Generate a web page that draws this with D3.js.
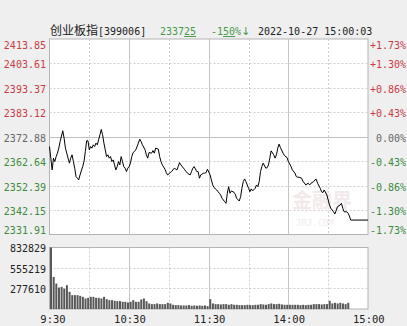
<!DOCTYPE html>
<html><head><meta charset="utf-8">
<script src="https://cdn.jsdelivr.net/npm/d3@7"></script>
<style>
html,body{margin:0;padding:0;background:#efefef;}
svg{display:block;}
text{font-family:"DejaVu Sans Mono",monospace;font-size:10px;}
</style></head>
<body>
<script>
// ---- data ----
const title = "创业板指";
const code = "[399006]";
const lastPriceMain = "2337", lastPriceDec = "25";
const changeMain = "-1", changeDec = "50", changePct = "%", changeArrow = "↓";
const stamp = "2022-10-27 15:00:03";
const prevClose = 2372.88;

const priceTicks = [2413.85, 2403.61, 2393.37, 2383.12, 2372.88, 2362.64, 2352.39, 2342.15, 2331.91];
const pctTicks = ["+1.73%", "+1.30%", "+0.86%", "+0.43%", "0.00%", "-0.43%", "-0.86%", "-1.30%", "-1.73%"];
const volTicks = [832829, 555219, 277610];
const timeTicks = [0, 60, 120, 180, 240];
const timeLabels = ["9:30", "10:30", "11:30", "14:00", "15:00"];

// minute offsets from 9:30 (trading minutes) and index values
const minutes = [
  0,2,3,4,5,6,7,8,10,11,12,13,14,15,16,17,18,19,20,21,22,23,25,26,27,28,29,30,31,32,
  33,34,35,36,37,38,39,40,41,42,43,44,45,46,47,48,49,50,51,52,53,54,55,56,57,58,59,60,
  61,62,63,64,65,67,68,69,70,72,73,74,75,77,78,79,80,82,83,84,85,87,88,89,91,92,
  93,94,96,97,98,99,101,102,103,104,106,107,108,109,111,112,113,114,116,117,118,119,
  121,122,123,124,126,127,128,129,130,131,132,133,134,135,136,137,139,140,141,143,
  144,145,146,147,148,150,151,152,153,155,156,157,158,159,160,161,163,164,165,166,
  167,169,170,171,172,173,174,176,177,179,180,
  181,182,183,185,186,187,188,190,191,192,193,195,196,197,199,200,201,202,204,205,
  206,207,209,210,211,212,214,215,216,217,219,220,221,222,224,225,226,227,240
];
const prices = [
  2368.78,2358.99,2363.90,2362.47,2364.58,2366.01,2368.11,2370.88,2375.38,2372.31,2368.11,2366.01,2363.90,2361.80,2363.90,2365.29,2362.47,2359.70,2356.17,2355.50,2354.78,2356.88,2360.37,2362.47,2366.68,2371.18,2371.18,2367.39,2368.78,2368.11,
  2369.50,2368.78,2370.21,2369.50,2371.60,2373.70,2375.93,2373.70,2370.21,2367.39,2364.58,2365.29,2363.90,2364.58,2362.47,2363.19,2361.09,2358.99,2360.37,2362.47,2361.09,2364.58,2362.47,2360.37,2359.70,2358.27,2359.70,2360.37,
  2361.80,2364.58,2366.26,2366.68,2367.39,2370.21,2371.89,2370.88,2369.50,2367.39,2365.29,2363.90,2366.26,2366.01,2367.10,2366.01,2368.11,2367.69,2364.58,2362.47,2361.09,2359.28,2357.85,2356.88,2357.85,2358.27,
  2358.99,2359.70,2358.99,2360.37,2362.05,2361.09,2359.70,2358.99,2358.27,2357.60,2356.88,2358.27,2359.70,2360.37,2358.27,2358.27,2355.50,2356.88,2357.60,2357.60,2357.85,2359.28,
  2356.88,2354.78,2352.68,2351.54,2350.58,2349.86,2349.19,2348.47,2347.09,2346.37,2345.66,2344.98,2349.19,2351.96,2349.19,2350.16,2349.61,2348.77,2347.09,2345.95,
  2347.76,2351.29,2354.07,2355.20,2354.07,2351.29,2349.86,2351.00,2350.16,2351.29,2352.68,2351.96,2354.07,2358.27,2360.37,2361.80,2359.70,2359.95,2361.09,2363.90,
  2366.97,2365.29,2363.90,2365.29,2368.11,2369.79,2368.36,2366.01,2365.00,2364.16,2362.47,
  2361.51,2360.37,2358.99,2357.60,2356.17,2355.92,2355.92,2355.50,2354.07,2353.65,2352.68,2353.39,2352.68,2353.39,2354.07,2354.78,2355.07,2353.39,2351.29,2349.86,
  2349.44,2350.58,2348.47,2346.37,2344.27,2342.88,2341.45,2340.49,2341.87,2343.56,2344.27,2344.98,2342.88,2341.45,2341.45,2340.78,2339.65,2337.96,2337.96
];

// volume, one bar per 2 trading minutes
const volumes = [
  832829,434000,344600,290700,299600,277200,322100,232200,187300,187300,
  187300,178300,164800,142400,151300,164800,164800,151300,151300,142400,
  164800,133400,119900,119900,110900,106500,106500,97400,97400,88500,
  97400,119900,97400,97400,129000,142400,106500,75100,66000,66000,
  75100,66000,66000,66000,84000,75100,57000,52600,52600,48100,
  48100,48100,52600,43500,48100,43500,48100,43500,48100,39100,
  133400,75100,66000,66000,61600,66000,66000,57000,66000,57000,
  57000,52600,52600,52600,57000,52600,52600,57000,57000,66000,
  61600,57000,66000,75100,66000,66000,70500,61600,57000,57000,
  57000,57000,57000,57000,52600,57000,52600,57000,57000,66000,
  66000,66000,61600,66000,66000,110900,75100,84000,75100,84000,
  75100,66000,84000
];

// ---- drawing ----
const W = 407, H = 326;
const L = 49.5, R = 368;
const mainTop = 39, mainBot = 234.5;
const volTop = 247.5, volBot = 309;
const RED = "#c83c46", GREEN = "#3c8c3c", NEUTRAL = "#666", DARK = "#222";

const svg = d3.select("body").append("svg").attr("width", W).attr("height", H);
svg.append("rect").attr("width", W).attr("height", H).attr("fill", "#efefef");

const x = d3.scaleLinear().domain([0, 240]).range([L, R]);
const y = d3.scaleLinear().domain([priceTicks[8], priceTicks[0]]).range([mainBot, mainTop]);
const yv = d3.scaleLinear().domain([0, volTicks[0]]).range([volBot, volTop]);

const px = v => Math.round(v) + 0.5;

function panel(top, bot) {
  svg.append("rect").attr("x", L).attr("y", top).attr("width", R - L).attr("height", bot - top)
    .attr("fill", "#fff").attr("stroke", "#b4b4b4").attr("stroke-width", 1);
  [30, 60, 90, 120, 150, 180, 210].forEach(m => {
    const solid = m % 60 === 0;
    svg.append("line").attr("x1", px(x(m))).attr("x2", px(x(m))).attr("y1", top).attr("y2", bot)
      .attr("stroke", solid ? "#c4c4c4" : "#cfcfcf").attr("stroke-dasharray", solid ? null : "2,2");
  });
}

// main panel
panel(mainTop, mainBot);
priceTicks.slice(1, -1).forEach(p => {
  const solid = p === prevClose;
  svg.append("line").attr("x1", L).attr("x2", R).attr("y1", px(y(p))).attr("y2", px(y(p)))
    .attr("stroke", solid ? "#c0c0c0" : "#cfcfcf").attr("stroke-dasharray", solid ? null : "2,2");
});

// watermark
svg.append("text").attr("x", 292).attr("y", 208).text("金融界")
  .style("font-family", "'Noto Sans CJK SC'").style("font-size", "20px").style("font-weight", "bold")
  .attr("fill", "#f2eaea");
svg.append("text").attr("x", 296).attr("y", 226).text("JRJ.COM")
  .style("font-size", "9px").attr("fill", "#f3eded");

// price line
const pts = minutes.map((m, i) => [m, prices[i]]);
svg.append("path").datum(pts)
  .attr("d", d3.line().x(d => x(d[0])).y(d => y(d[1])))
  .attr("fill", "none").attr("stroke", "#000").attr("stroke-width", 1);

// axis labels
const col = p => p > prevClose ? RED : (p < prevClose ? GREEN : NEUTRAL);
priceTicks.forEach((p, i) => {
  const ty = Math.min(Math.max(y(p) + 5, mainTop + 9.5), mainBot - 0.3);
  svg.append("text").attr("x", 46).attr("y", ty).attr("text-anchor", "end")
    .attr("fill", col(p)).text(p.toFixed(2));
  svg.append("text").attr("x", 406).attr("y", ty).attr("text-anchor", "end")
    .attr("fill", col(p)).text(pctTicks[i]);
});

// volume panel
panel(volTop, volBot);
volTicks.slice(1).forEach(v => {
  svg.append("line").attr("x1", L).attr("x2", R).attr("y1", px(yv(v))).attr("y2", px(yv(v)))
    .attr("stroke", "#cfcfcf").attr("stroke-dasharray", "2,2");
});
const bw = x(2) - x(0) - 0.65;
svg.append("g").selectAll("rect").data(volumes).join("rect")
  .attr("x", (d, i) => x(2 * i) + 0.5)
  .attr("y", d => yv(d))
  .attr("width", bw)
  .attr("height", d => volBot - yv(d))
  .attr("fill", "#585858");
volTicks.forEach(v => {
  svg.append("text").attr("x", 46).attr("y", yv(v) + 4.7).attr("text-anchor", "end")
    .attr("fill", DARK).text(v);
});

// time axis
timeTicks.forEach((m, i) => {
  svg.append("text").attr("x", x(m) + (i === 0 ? 3.5 : 0.8)).attr("y", 323)
    .attr("text-anchor", "middle").attr("fill", DARK)
    .style("font-size", "10.5px").text(timeLabels[i]);
});

// header
const h = svg.append("text").attr("x", 50).attr("y", 35).attr("fill", DARK);
h.append("tspan").style("font-family", "'Noto Sans CJK SC'").style("font-size", "12px").text(title);
h.append("tspan").text(code);

const lp = svg.append("text").attr("x", 160).attr("y", 35).attr("fill", "#4a9a4a");
lp.append("tspan").text(lastPriceMain);
lp.append("tspan").style("text-decoration", "underline").text(lastPriceDec);

const ch = svg.append("text").attr("x", 211).attr("y", 35).attr("fill", "#4a9a4a");
ch.append("tspan").text(changeMain);
ch.append("tspan").style("text-decoration", "underline").text(changeDec);
ch.append("tspan").text(changePct);
ch.append("tspan").style("font-family", "'DejaVu Sans'").style("font-size", "11px").text(changeArrow);

svg.append("text").attr("x", 258).attr("y", 35).attr("fill", DARK).text(stamp);
</script>
</body></html>
